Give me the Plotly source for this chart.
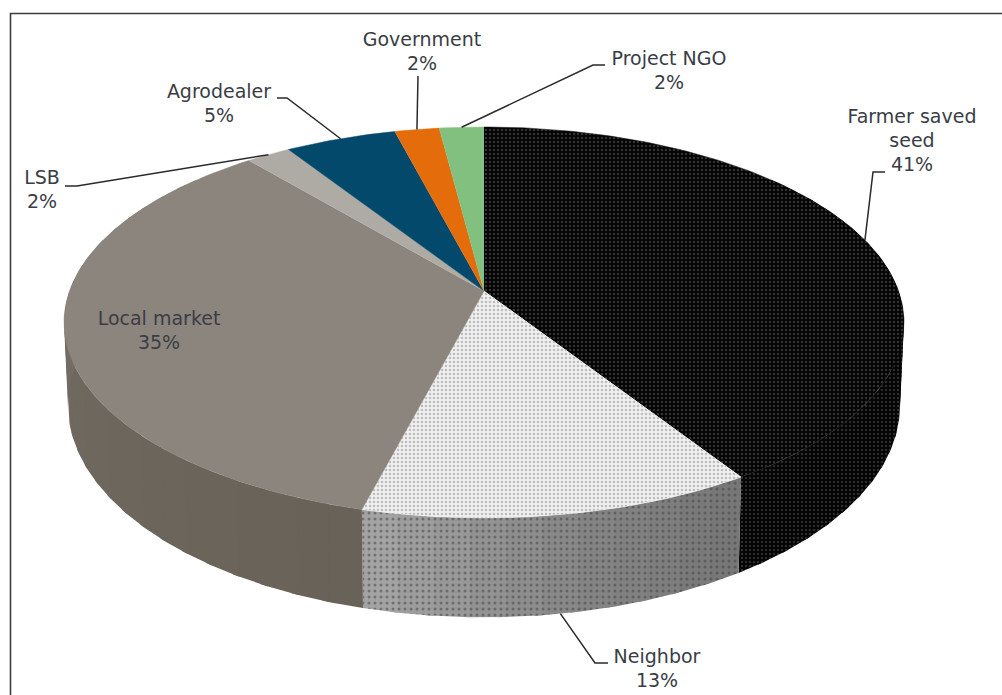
import numpy as np
import plotly.graph_objects as go

# Seed sources and their shares (percent), clockwise from twelve o'clock
categories = ["Farmer saved seed", "Neighbor", "Local market", "LSB",
              "Agrodealer", "Government", "Project NGO"]
shares = [41, 13, 35, 2, 5, 2, 2]

# Label text lines for each source
label_names = [["Farmer saved", "seed"], ["Neighbor"], ["Local market"], ["LSB"],
               ["Agrodealer"], ["Government"], ["Project NGO"]]

# Label placement in page pixels: centre x, first-line y
label_pos = [(912, 118), (657, 658), (159, 320), (42, 179),
             (219, 93), (422, 41), (669, 60)]
LINE_GAP = 24

# Leader lines: two page-pixel points near the label; None means no leader
leader_start = [(885, 172), (608, 663), None, (65, 186), (277, 98), (418, 76), (605, 65)]
leader_elbow = [(873, 172), (595, 663), None, (77, 186), (287, 98), (418, 76), (593, 65)]

# Styles of the top face and the side wall
top_colors = ["#0c0c0c", "#eeeeee", "#8c857d", "#aeaba5", "#02496b", "#e46c0a", "#82c07f"]
TEXT = "#3a3d45"
FONT = "DejaVu Sans"
FONT_SIZE = 19

# Perspective disc: the rim is a projected unit circle
CX, PERSP = 484.0, 0.161
TOP_FACE = dict(cy=291.0, ax=414.5, ay=190.4)
BOTTOM_FACE = dict(cy=371.0, ax=410.6, ay=206.6)


def project(theta_deg, face, radius=1.0):
    """Map a clockwise angle from twelve o'clock onto a face of the disc."""
    t = np.radians(theta_deg)
    u, v = radius * np.sin(t), radius * np.cos(t)
    den = 1 + PERSP * v
    return CX + face["ax"] * u / den, face["cy"] - face["ay"] * v / den


def shade(stops, f):
    """Interpolate an RGB colour between stops for f in [0, 1]."""
    stops = np.array(stops, dtype=float)
    pos = np.linspace(0, 1, len(stops))
    rgb = [np.interp(f, pos, stops[:, i]) for i in range(3)]
    return "rgb(%d,%d,%d)" % tuple(rgb)


def side_style(index, f):
    """Fill settings for one side-wall facet; f runs along the slice."""
    if index == 0:
        return dict(fillcolor="#050505",
                    fillpattern=dict(shape=".", bgcolor="#060606", fgcolor="#6e6e6e",
                                     size=4, solidity=0.2))
    if index == 1:
        bg = shade([(118, 118, 118), (136, 136, 136), (166, 166, 166)], f)
        return dict(fillcolor=bg,
                    fillpattern=dict(shape=".", bgcolor=bg, fgcolor="#404040",
                                     size=6, solidity=0.2))
    if index == 2:
        return dict(fillcolor=shade([(104, 98, 89), (112, 105, 96), (124, 120, 112)], f))
    return dict(fillcolor=top_colors[index])


fig = go.Figure()

# Side wall: narrow overlapping facets, swept around the rim so the silhouette stays whole
edges = np.concatenate([[0], np.cumsum(shares)]) * 3.6
for i in range(len(shares)):
    a0, a1 = max(edges[i], 50), min(edges[i + 1], 310)
    if a1 <= a0:
        continue
    n = max(1, int((a1 - a0) / 4))
    steps = np.linspace(a0, a1, n + 1)
    for j in range(n):
        upper = steps[j + 1] + (1.0 if j < n - 1 else 0.0)
        th = np.linspace(steps[j], upper, 5)
        xt, yt = project(th, TOP_FACE)
        xb, yb = project(th[::-1], BOTTOM_FACE)
        style = side_style(i, (j + 0.5) / n)
        fig.add_trace(go.Scatter(
            x=np.concatenate([xt, xb]), y=np.concatenate([yt, yb]),
            mode="lines", fill="toself", line=dict(width=0),
            hoverinfo="skip", showlegend=False, **style))

# Top face wedges
top_patterns = {
    0: dict(shape=".", bgcolor="#060606", fgcolor="#808080", size=4, solidity=0.2),
    1: dict(shape=".", bgcolor="#efefef", fgcolor="#8a8a8a", size=4, solidity=0.32),
}
for i, name in enumerate(categories):
    th = np.linspace(edges[i], edges[i + 1], max(3, int(shares[i] * 4)))
    xr, yr = project(th, TOP_FACE)
    cx0, cy0 = project(0.0, TOP_FACE, radius=0.0)
    extra = {"fillpattern": top_patterns[i]} if i in top_patterns else {}
    fig.add_trace(go.Scatter(
        x=np.concatenate([[cx0], xr]), y=np.concatenate([[cy0], yr]),
        mode="lines", fill="toself", fillcolor=top_colors[i],
        line=dict(color=top_colors[i], width=0.5),
        name=name, hoverinfo="skip", showlegend=False, **extra))

# Leaders from the rim to each outside label
mids = (edges[:-1] + edges[1:]) / 2
for i in range(len(shares)):
    if leader_start[i] is None:
        continue
    face = BOTTOM_FACE if 120 < mids[i] < 240 else TOP_FACE
    rx, ry = project(mids[i], face)
    fig.add_trace(go.Scatter(
        x=[leader_start[i][0], leader_elbow[i][0], float(rx)],
        y=[leader_start[i][1], leader_elbow[i][1], float(ry)],
        mode="lines", line=dict(color="#2a2a2a", width=1.5),
        hoverinfo="skip", showlegend=False))

# Labels: source name lines followed by the percentage
for i in range(len(shares)):
    lines = label_names[i] + [f"{shares[i]}%"]
    x0, y0 = label_pos[i]
    fig.add_trace(go.Scatter(
        x=[x0] * len(lines), y=[y0 + k * LINE_GAP for k in range(len(lines))],
        text=lines, mode="text", textposition="middle center",
        textfont=dict(family=FONT, size=FONT_SIZE, color=TEXT),
        hoverinfo="skip", showlegend=False))

fig.update_layout(
    width=1002, height=695, margin=dict(l=0, r=0, t=0, b=0),
    paper_bgcolor="white", plot_bgcolor="white", showlegend=False,
    xaxis=dict(range=[0, 1002], visible=False, fixedrange=True),
    yaxis=dict(range=[695, 0], visible=False, fixedrange=True),
    # Chart frame; its right and bottom edges run off the page
    shapes=[dict(type="rect", xref="x", yref="y", x0=10.5, y0=13.5, x1=1020, y1=720,
                 line=dict(color="#3c3c3c", width=1.6), layer="below")],
)

fig.write_html("out.html")
